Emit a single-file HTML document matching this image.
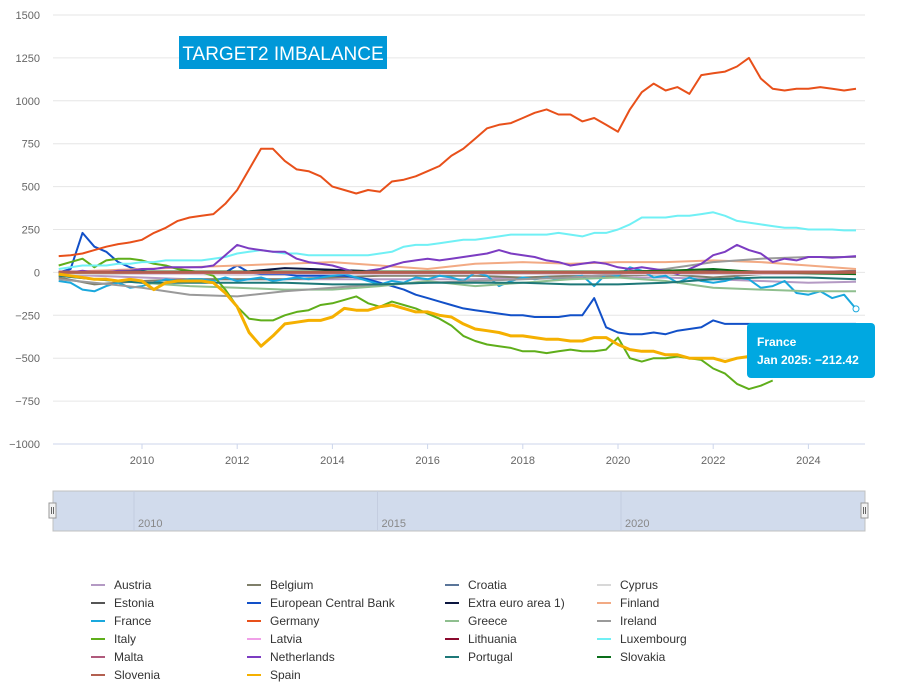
<!DOCTYPE html>
<html><head><meta charset="utf-8"><style>
body{margin:0;background:#fff;font-family:"Liberation Sans",sans-serif}
#wrap{position:relative;width:904px;height:689px;overflow:hidden}
</style></head><body>
<div id="wrap">
<svg id="chart" width="904" height="689"></svg>
</div>
<script>
const yearsQ=[];for(let i=0;i<68;i++)yearsQ.push(2008.25+i*0.25);
const yearsA=[2008.25,2009,2010,2011,2012,2013,2014,2015,2016,2017,2018,2019,2020,2021,2022,2023,2024,2025];
const yTicks=[1500,1250,1000,750,500,250,0,-250,-500,-750,-1000];
const xTicks=[2010,2012,2014,2016,2018,2020,2022,2024];
const navTicks=[2010,2015,2020];
const germany=[95,100,110,130,150,165,175,190,230,260,300,320,330,340,400,480,600,720,720,650,600,590,560,500,480,460,480,470,530,540,560,590,620,680,720,780,840,860,870,900,930,950,920,920,880,900,860,820,950,1050,1100,1060,1080,1040,1150,1160,1170,1200,1250,1130,1070,1060,1070,1070,1080,1070,1060,1070];
const italy=[40,60,80,30,70,80,80,70,50,40,20,10,0,-20,-100,-200,-270,-280,-280,-250,-230,-220,-190,-180,-160,-140,-180,-200,-170,-190,-210,-240,-270,-310,-370,-400,-420,-430,-440,-460,-460,-470,-460,-450,-460,-460,-450,-380,-500,-520,-500,-500,-490,-500,-510,-560,-590,-650,-680,-660,-630];
const spain=[-10,-20,-30,-40,-40,-50,-40,-50,-100,-60,-50,-50,-50,-60,-120,-200,-350,-430,-370,-300,-290,-280,-280,-260,-210,-220,-220,-200,-190,-210,-230,-230,-250,-260,-300,-330,-340,-350,-370,-370,-380,-390,-390,-400,-400,-380,-380,-420,-450,-460,-460,-480,-480,-500,-500,-500,-520,-500,-490,-480,-470,-470,-470,-470,-470,-470,-470,-470];
const ecb=[0,20,230,150,120,60,30,10,0,0,0,0,0,0,0,40,0,-10,-10,-10,-20,-20,-20,-20,-20,-30,-40,-60,-80,-100,-130,-150,-170,-190,-210,-220,-230,-240,-250,-250,-260,-260,-260,-250,-250,-150,-320,-350,-360,-360,-350,-360,-340,-330,-320,-280,-300,-300,-300,-300,-300,-300,-300,-300,-300,-300,-300,-300];
const luxembourg=[20,30,40,40,40,50,50,60,60,70,70,70,70,80,90,110,120,130,120,110,110,100,100,100,100,100,100,110,120,150,160,160,170,180,190,190,200,210,220,220,220,220,230,220,210,230,230,250,280,320,320,320,330,330,340,350,330,300,290,280,270,260,260,250,250,250,245,245];
const netherlands=[0,0,10,0,0,10,10,20,20,30,30,30,30,40,100,160,140,130,120,120,80,60,50,40,20,0,10,20,40,60,70,80,70,80,90,100,110,130,110,100,90,70,60,40,50,60,50,30,20,30,20,10,-10,20,50,100,120,160,130,110,60,80,70,90,90,85,90,95];
const france=[-50,-60,-100,-110,-80,-60,-90,-80,-60,-40,-50,-40,-40,-50,-30,-50,-40,-30,-50,-40,-30,-40,-30,-20,-10,-30,-50,-70,-50,-60,-30,-40,-20,-30,-50,0,-20,-80,-50,-30,-40,-30,-40,-30,-20,-80,-10,-20,30,10,-30,-20,-60,-30,-50,-60,-50,-30,-40,-90,-80,-50,-120,-130,-110,-150,-130,-212.42];
const austria=[-10,-20,-30,-40,-40,-40,-40,-40,-40,-40,-30,-30,-30,-30,-40,-50,-60,-55];
const belgium=[-30,-70,-50,-40,-40,-40,-30,-20,-20,-20,-30,-20,-20,-10,-30,-10,0,10];
const croatia=[0,0,0,0,0,0,0,0,0,0,0,0,0,0,0,0,-5,-5];
const cyprus=[-10,-10,-10,-10,-15,-15,-10,-10,-10,-10,-10,-10,-10,-10,-10,-10,-10,-10];
const estonia=[0,0,0,0,0,0,0,0,0,0,0,0,0,0,0,0,0,0];
const extra=[0,0,0,0,0,25,15,5,0,5,5,5,5,10,10,5,5,5];
const finland=[0,10,20,30,40,50,60,40,20,50,60,50,60,60,70,60,40,20];
const greece=[-20,-40,-60,-80,-90,-100,-100,-80,-50,-80,-60,-40,-30,-50,-90,-100,-110,-110];
const ireland=[-40,-60,-90,-130,-140,-110,-90,-70,-60,-50,-40,-30,-10,20,60,80,90,90];
const latvia=[0,0,-5,-5,-5,-5,-5,-5,-5,-5,-5,-5,-5,-5,-5,-5,-5,-5];
const lithuania=[0,0,0,0,0,0,0,0,0,0,0,0,0,0,0,0,0,0];
const malta=[5,5,5,5,5,5,5,5,5,5,5,5,5,5,5,5,5,5];
const portugal=[-20,-40,-60,-60,-60,-60,-70,-70,-60,-60,-60,-70,-70,-60,-40,-30,-30,-40];
const slovakia=[0,0,5,5,5,5,5,5,5,5,5,5,5,10,20,0,-5,-10];
const slovenia=[0,0,0,0,0,0,0,0,0,0,0,0,0,0,0,0,0,0];

const series=[
['Austria','#b49ac4',austria,yearsA,2],['Belgium','#7f7f6a',belgium,yearsA,2],['Croatia','#5a7599',croatia,yearsA,2],['Cyprus','#d8d8d8',cyprus,yearsA,2],
['Estonia','#555555',estonia,yearsA,2],['European Central Bank','#1250c8',ecb,yearsQ,2],['Extra euro area 1)','#0b1640',extra,yearsA,2],['Finland','#f2aa84',finland,yearsA,2],
['France','#1aa8dd',france,yearsQ,2],['Germany','#e8501a',germany,yearsQ,2],['Greece','#8fbf8f',greece,yearsA,2],['Ireland','#9a9a9a',ireland,yearsA,2],
['Italy','#5fae1a',italy,yearsQ,2],['Latvia','#f0a0e8',latvia,yearsA,2],['Lithuania','#8b0a2e',lithuania,yearsA,2],['Luxembourg','#70f0f5',luxembourg,yearsQ,2],
['Malta','#b05a7c',malta,yearsA,2],['Netherlands','#7c3cc2',netherlands,yearsQ,2],['Portugal','#1e7878',portugal,yearsA,2],['Slovakia','#0a6e1a',slovakia,yearsA,2],
['Slovenia','#b36050',slovenia,yearsA,3],['Spain','#f5b000',spain,yearsQ,3]];

const NS='http://www.w3.org/2000/svg';
const svg=document.getElementById('chart');
function el(t,a,p){const e=document.createElementNS(NS,t);for(const k in a)e.setAttribute(k,a[k]);(p||svg).appendChild(e);return e;}
const X0=53,X1=865,Y0=444,Y1=15;
function sx(y){return 142+(y-2010)*47.6;}
function sy(v){return Y0-(v+1000)/2500*(Y0-Y1);}

yTicks.forEach(v=>{
 const g=el('line',{x1:X0,x2:X1,y1:sy(v),y2:sy(v),stroke:v===-1000?'#ccd6eb':'#e6e6e6','stroke-width':1});
 
 
 const t=el('text',{x:40,y:sy(v)+4,'text-anchor':'end','font-size':11,fill:'#666'});
 t.textContent=v<0?'\u2212'+(-v):String(v);
 
 
});
xTicks.forEach(y=>{
 const l=el('line',{x1:sx(y),x2:sx(y),y1:Y0,y2:Y0+5,stroke:'#ccd6eb'});
 
 
 const t=el('text',{x:sx(y),y:Y0+20,'text-anchor':'middle','font-size':11,fill:'#666'});
 t.textContent=y;
 
 
});
const title=el('rect',{x:179,y:36,width:208,height:33,fill:'#0098d8'});


const tt=el('text',{x:283,y:60,'text-anchor':'middle','font-size':19,fill:'#fff'});
tt.textContent='TARGET2 IMBALANCE';



series.forEach(s=>{
 const [name,col,vals,yrs,w]=s;
 const d=vals.map((v,i)=>(i?'L':'M')+sx(yrs[i]).toFixed(1)+','+sy(v).toFixed(1)).join('');
 const p=el('path',{d:d,fill:'none',stroke:col,'stroke-width':w,'stroke-linejoin':'round'});
 
 
});

const fx=sx(yearsQ[france.length-1]),fy=sy(france[france.length-1]);
const mk=el('circle',{cx:fx,cy:fy,r:3,fill:'#fff',stroke:'#1aa8dd','stroke-width':1});


const tb=el('rect',{x:747,y:323,width:128,height:55,rx:4,fill:'#00a8e1'});


const t1=el('text',{x:757,y:346,'font-size':12,'font-weight':'bold',fill:'#fff'});t1.textContent='France';


const t2=el('text',{x:757,y:364,'font-size':12,'font-weight':'bold',fill:'#fff'});t2.textContent='Jan 2025: \u2212212.42';



const nav=el('rect',{x:53,y:491,width:812,height:40,fill:'#d1dbec',stroke:'#c0c0c0'});


navTicks.forEach((y,i)=>{
 const nx=134+i*243.5;
 const l=el('line',{x1:nx,x2:nx,y1:491,y2:531,stroke:'#c4cde0'});
 
 
 const t=el('text',{x:nx+4,y:527,'font-size':11,fill:'#888'});t.textContent=y;
 
 
});
[53,865].forEach(hx=>{
 const h=el('rect',{x:hx-4,y:503,width:7,height:15,fill:'#f2f2f2',stroke:'#999'});
 
 
 el('line',{x1:hx-1.5,x2:hx-1.5,y1:507,y2:514,stroke:'#666'});
 el('line',{x1:hx+0.5,x2:hx+0.5,y1:507,y2:514,stroke:'#666'});
});

const colX=[91,247,445,597];
series.forEach((s,i)=>{
 const c=i%4,r=Math.floor(i/4);
 const lx=colX[c],ly=585+r*18;
 const g=el('g',{});
 
 
 el('line',{x1:lx,x2:lx+14,y1:ly,y2:ly,stroke:s[1],'stroke-width':2},g);
 const t=el('text',{x:lx+23,y:ly+4,'font-size':12,fill:'#333'},g);t.textContent=s[0];
});
</script>
</body></html>
